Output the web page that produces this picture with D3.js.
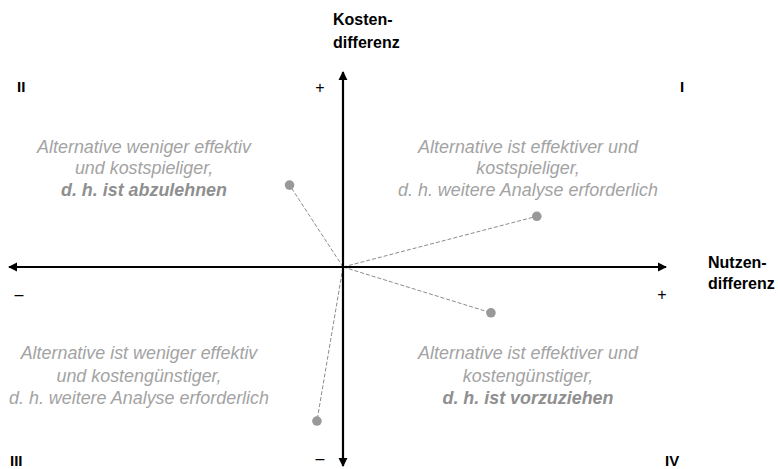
<!DOCTYPE html>
<html>
<head>
<meta charset="utf-8">
<script src="https://cdn.jsdelivr.net/npm/d3@7"></script>
<style>
  body { margin: 0; background: #fff; }
  text { font-family: "Liberation Sans", Arial, sans-serif; }
</style>
</head>
<body>
<div id="container"></div>
<script>
// container window size
let cwW = 778;
let cwH = 469;

// data: alternatives relative to comparator (Nutzen, Kosten)
const altNutzen = [-0.16, 0.60, 0.458, -0.078];
const altKosten = [0.42, 0.26, -0.23, -0.774];

// quadrant texts (last line bold in some)
const quadNames = ["I", "II", "III", "IV"];
const quadText = [
  ["Alternative ist effektiver und", "kostspieliger,", "d. h. weitere Analyse erforderlich"],
  ["Alternative weniger effektiv", "und kostspieliger,", "d. h. ist abzulehnen"],
  ["Alternative ist weniger effektiv", "und kostengünstiger,", "d. h. weitere Analyse erforderlich"],
  ["Alternative ist effektiver und", "kostengünstiger,", "d. h. ist vorzuziehen"]
];
const quadBold = [false, true, false, true];

let svgArea = d3.select("#container")
  .append("svg")
  .attr("width", cwW)
  .attr("height", cwH);

// scales (origin not centered)
let x = d3.scaleLinear().domain([-1, 0, 1]).range([9, 343, 666]);
let y = d3.scaleLinear().domain([-1, 0, 1]).range([466, 267, 72]);

// arrow marker
let defs = svgArea.append("defs");
defs.append("marker")
  .attr("id", "arr")
  .attr("viewBox", "0 0 10 10")
  .attr("refX", 9).attr("refY", 5)
  .attr("markerWidth", 4.2).attr("markerHeight", 4.2)
  .attr("orient", "auto-start-reverse")
  .append("path")
  .attr("d", "M0,0 L10,5 L0,10 Z")
  .attr("fill", "#000");

// dashed connections
svgArea.append("g")
  .selectAll("line")
  .data(altNutzen)
  .enter()
  .append("line")
  .attr("x1", x(0)).attr("y1", y(0))
  .attr("x2", d => x(d))
  .attr("y2", (d, i) => y(altKosten[i]))
  .attr("stroke", "#8c8c8c")
  .attr("stroke-width", 1)
  .attr("stroke-dasharray", "4,2");

// axes
svgArea.append("line")
  .attr("x1", x(-1)).attr("x2", x(1))
  .attr("y1", y(0)).attr("y2", y(0))
  .attr("stroke", "#000").attr("stroke-width", 2.2)
  .attr("marker-start", "url(#arr)")
  .attr("marker-end", "url(#arr)");
svgArea.append("line")
  .attr("x1", x(0)).attr("x2", x(0))
  .attr("y1", y(-1)).attr("y2", y(1))
  .attr("stroke", "#000").attr("stroke-width", 2.2)
  .attr("marker-start", "url(#arr)")
  .attr("marker-end", "url(#arr)");

// points
svgArea.append("g")
  .selectAll("circle")
  .data(altNutzen)
  .enter()
  .append("circle")
  .attr("cx", d => x(d))
  .attr("cy", (d, i) => y(altKosten[i]))
  .attr("r", 4.8)
  .attr("fill", "#999");

// axis titles
let yTitle = svgArea.append("text")
  .attr("x", 333).attr("y", 25)
  .attr("font-size", 16).attr("font-weight", 600).attr("fill", "#000");
yTitle.append("tspan").attr("x", 333).text("Kosten-");
yTitle.append("tspan").attr("x", 333).attr("dy", 23).text("differenz");

let xTitle = svgArea.append("text")
  .attr("x", 708).attr("y", 268)
  .attr("font-size", 16).attr("font-weight", 600).attr("fill", "#000");
xTitle.append("tspan").attr("x", 708).text("Nutzen-");
xTitle.append("tspan").attr("x", 708).attr("dy", 21).text("differenz");

// signs
const signs = [
  {t: "+", x: 320, y: 93},
  {t: "–", x: 320, y: 464},
  {t: "–", x: 19, y: 300},
  {t: "+", x: 662, y: 300}
];
svgArea.append("g")
  .selectAll("text")
  .data(signs)
  .enter()
  .append("text")
  .attr("x", d => d.x).attr("y", d => d.y)
  .attr("text-anchor", "middle")
  .attr("font-size", 16).attr("fill", "#000")
  .text(d => d.t);

// quadrant numerals
const numPos = [[680, 92], [17, 92], [10, 466], [665, 466]];
svgArea.append("g")
  .selectAll("text")
  .data(quadNames)
  .enter()
  .append("text")
  .attr("x", (d, i) => numPos[i][0])
  .attr("y", (d, i) => numPos[i][1])
  .attr("font-size", 15).attr("font-weight", 700).attr("fill", "#000")
  .text(d => d);

// quadrant descriptions
const descPos = [[528, 153, 21.3], [144, 153, 21.3], [139, 359, 22.5], [528, 359, 22.5]];
quadText.forEach(function(lines, qi) {
  let t = svgArea.append("text")
    .attr("x", descPos[qi][0]).attr("y", descPos[qi][1])
    .attr("text-anchor", "middle")
    .attr("font-size", 17.9).attr("font-style", "italic")
    .attr("fill", "#a3a3a3");
  lines.forEach(function(l, li) {
    t.append("tspan")
      .attr("x", descPos[qi][0])
      .attr("dy", li === 0 ? 0 : descPos[qi][2])
      .attr("font-weight", (quadBold[qi] && li === 2) ? 700 : 400)
      .attr("fill", (quadBold[qi] && li === 2) ? "#8f8f8f" : "#a3a3a3")
      .text(l);
  });
});
</script>
</body>
</html>
